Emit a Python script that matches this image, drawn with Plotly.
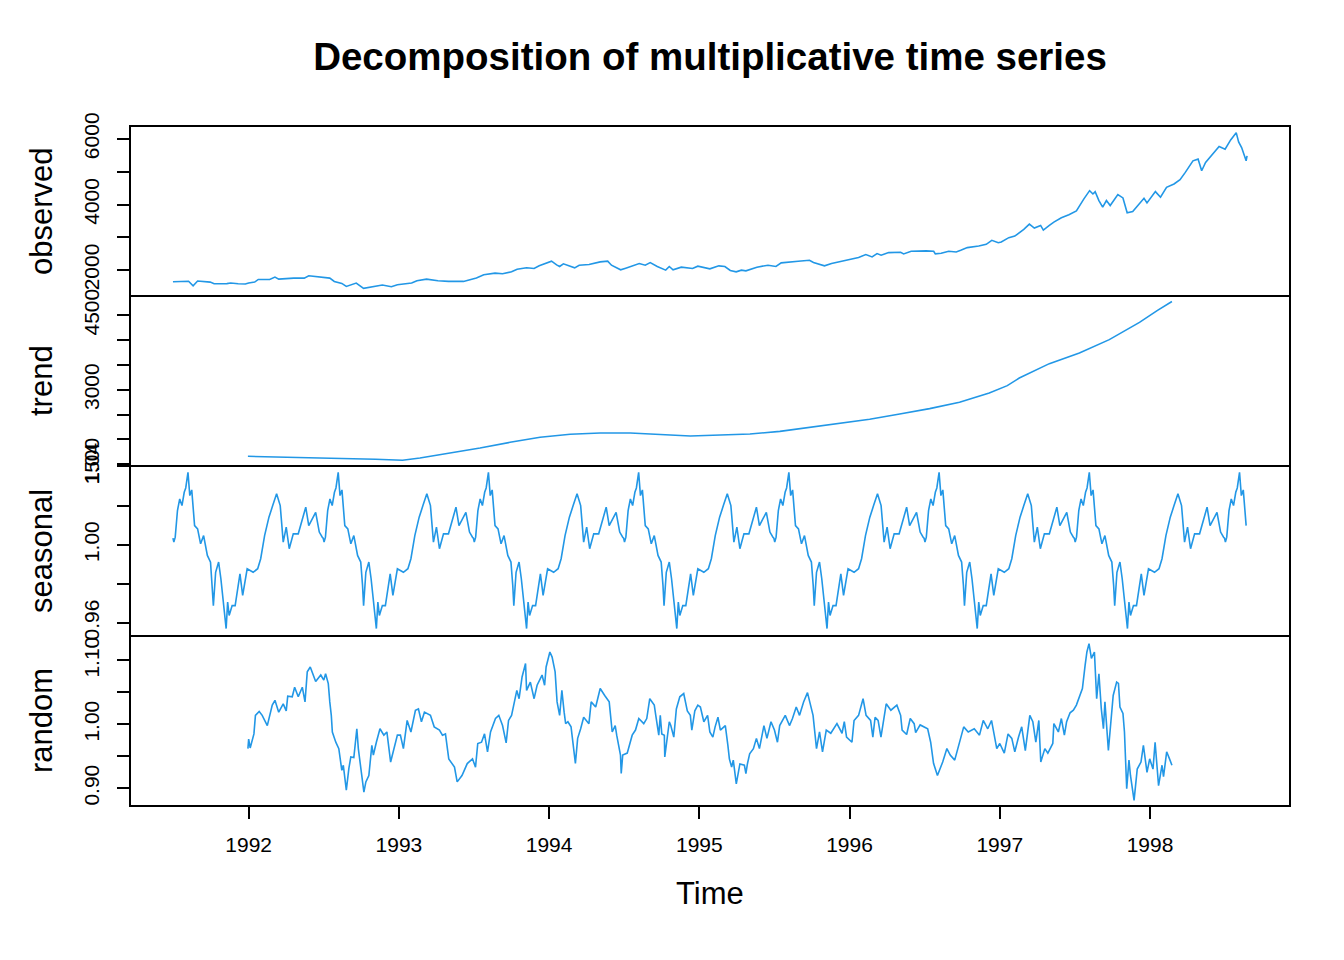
import plotly.graph_objects as go
from plotly.subplots import make_subplots

# observed series (DAX)
obs_t = [1991.496, 1991.60, 1991.63, 1991.66, 1991.744, 1991.77, 1991.855, 1991.88, 1991.93, 1991.978,
         1992.00, 1992.04, 1992.064, 1992.14, 1992.175, 1992.20, 1992.30, 1992.37, 1992.40, 1992.495,
         1992.54, 1992.57, 1992.62, 1992.65, 1992.68, 1992.716, 1992.765, 1992.84, 1992.89, 1992.95,
         1992.99, 1993.085, 1993.12, 1993.184, 1993.26, 1993.33, 1993.43, 1993.516, 1993.565, 1993.64,
         1993.69, 1993.75, 1993.787, 1993.85, 1993.90, 1993.934, 1994.016, 1994.05, 1994.07, 1994.095,
         1994.17, 1994.20, 1994.266, 1994.34, 1994.39, 1994.415, 1994.476, 1994.51, 1994.56, 1994.60,
         1994.64, 1994.673, 1994.72, 1994.776, 1994.80, 1994.825, 1994.88, 1994.955, 1994.99, 1995.04,
         1995.07, 1995.13, 1995.17, 1995.206, 1995.245, 1995.28, 1995.31, 1995.383, 1995.457, 1995.51,
         1995.545, 1995.658, 1995.733, 1995.76, 1995.81, 1995.833, 1995.88, 1995.958, 1996.02, 1996.06,
         1996.108, 1996.15, 1996.183, 1996.21, 1996.26, 1996.34, 1996.36, 1996.41, 1996.51, 1996.56,
         1996.571, 1996.61, 1996.66, 1996.71, 1996.74, 1996.784, 1996.86, 1996.91, 1996.947, 1996.99,
         1997.01, 1997.06, 1997.10, 1997.135, 1997.16, 1997.197, 1997.23, 1997.272, 1997.29, 1997.33,
         1997.36, 1997.41, 1997.46, 1997.51, 1997.535, 1997.56, 1997.598, 1997.62, 1997.635, 1997.66,
         1997.685, 1997.71, 1997.735, 1997.786, 1997.82, 1997.848, 1997.885, 1997.91, 1997.96, 1997.98,
         1998.036, 1998.07, 1998.11, 1998.16, 1998.20, 1998.235, 1998.286, 1998.32, 1998.344, 1998.37,
         1998.41, 1998.46, 1998.50, 1998.537, 1998.574, 1998.59, 1998.61, 1998.62, 1998.64, 1998.646]
obs_v = [1646, 1660, 1524, 1667, 1636, 1585, 1590, 1606, 1585, 1576,
         1606, 1636, 1717, 1717, 1788, 1727, 1758, 1758, 1828, 1788,
         1758, 1657, 1596, 1505, 1545, 1606, 1444, 1505, 1545, 1495,
         1555, 1606, 1677, 1727, 1677, 1657, 1657, 1758, 1858, 1909,
         1889, 1949, 2030, 2071, 2050, 2131, 2273, 2161, 2111, 2192,
         2071, 2151, 2171, 2252, 2273, 2151, 2010, 2060, 2131, 2202,
         2151, 2232, 2111, 2000, 2111, 2010, 2091, 2050, 2121, 2081,
         2040, 2131, 2111, 1990, 1949, 2000, 1980, 2091, 2151, 2111,
         2222, 2273, 2303, 2232, 2171, 2131, 2202, 2273, 2333, 2384,
         2475, 2404, 2505, 2455, 2535, 2545, 2495, 2576, 2586, 2576,
         2495, 2515, 2576, 2555, 2606, 2687, 2737, 2788, 2909, 2838,
         2859, 2990, 3040, 3162, 3242, 3404, 3283, 3364, 3222, 3364,
         3465, 3596, 3687, 3808, 3970, 4172, 4424, 4323, 4394, 4121,
         3919, 4121, 3970, 4303, 4202, 3747, 3788, 3919, 4192, 4050,
         4394, 4222, 4525, 4626, 4757, 4980, 5333, 5384, 5030, 5283,
         5485, 5767, 5687, 5970, 6191, 5909, 5737, 5586, 5333, 5485]

# trend component
trend_t = [1991.995, 1992.27, 1992.545, 1992.844, 1993.024, 1993.14, 1993.34, 1993.54, 1993.74, 1993.94,
           1994.14, 1994.34, 1994.54, 1994.74, 1994.94, 1995.14, 1995.337, 1995.536, 1995.735, 1995.935,
           1996.134, 1996.334, 1996.533, 1996.732, 1996.93, 1997.05, 1997.13, 1997.33, 1997.53, 1997.729,
           1997.93, 1998.05, 1998.137, 1998.146]
trend_v = [1661, 1647, 1621, 1601, 1581, 1627, 1727, 1828, 1943, 2044,
           2104, 2131, 2131, 2104, 2070, 2090, 2110, 2164, 2245, 2339,
           2406, 2513, 2621, 2748, 2935, 3084, 3237, 3527, 3741, 4010,
           4359, 4600, 4761, 4778]

# seasonal component: one yearly cycle, offset (years) from the series start
seas_start = 1991.496
seas_end = 1998.646
seas_phase = [0.000, 0.006, 0.015, 0.030, 0.045, 0.060, 0.075, 0.085, 0.100, 0.112,
              0.125, 0.144, 0.164, 0.184, 0.204, 0.229, 0.250, 0.262, 0.269, 0.284,
              0.304, 0.319, 0.340, 0.354, 0.364, 0.374, 0.394, 0.414, 0.446, 0.464,
              0.494, 0.534, 0.564, 0.584, 0.610, 0.639, 0.664, 0.690, 0.714, 0.734,
              0.754, 0.774, 0.801, 0.834, 0.884, 0.904, 0.950, 0.974, 0.994]
seas_v = [1.0034, 1.0014, 1.0039, 1.0175, 1.0234, 1.0200, 1.0268, 1.0290, 1.0370, 1.0251,
          1.0280, 1.0098, 1.0081, 1.0005, 1.0047, 0.9946, 0.9912, 0.9793, 0.9690, 0.9860,
          0.9912, 0.9827, 0.9690, 0.9573, 0.9708, 0.9640, 0.9690, 0.9690, 0.9852, 0.9742,
          0.9878, 0.9860, 0.9878, 0.9929, 1.0047, 1.0141, 1.0200, 1.0260, 1.0200, 1.0014,
          1.0090, 0.9980, 1.0056, 1.0056, 1.0192, 1.0098, 1.0166, 1.0065, 1.0039]

# random component
rand_t = [1991.995, 1992.000, 1992.010, 1992.035, 1992.045, 1992.070, 1992.090, 1992.124, 1992.157, 1992.175,
          1992.200, 1992.230, 1992.250, 1992.260, 1992.290, 1992.306, 1992.330, 1992.357, 1992.375, 1992.390,
          1992.410, 1992.446, 1992.480, 1992.500, 1992.512, 1992.530, 1992.540, 1992.550, 1992.557, 1992.580,
          1992.600, 1992.620, 1992.630, 1992.650, 1992.667, 1992.680, 1992.700, 1992.712, 1992.720, 1992.730,
          1992.745, 1992.767, 1992.780, 1992.800, 1992.820, 1992.830, 1992.850, 1992.874, 1992.900, 1992.920,
          1992.945, 1992.970, 1992.990, 1993.010, 1993.030, 1993.055, 1993.080, 1993.110, 1993.130, 1993.150,
          1993.170, 1993.210, 1993.235, 1993.270, 1993.290, 1993.310, 1993.332, 1993.370, 1993.388, 1993.420,
          1993.455, 1993.490, 1993.510, 1993.525, 1993.550, 1993.570, 1993.590, 1993.610, 1993.643, 1993.665,
          1993.690, 1993.714, 1993.730, 1993.750, 1993.770, 1993.785, 1993.800, 1993.820, 1993.843, 1993.850,
          1993.875, 1993.900, 1993.920, 1993.953, 1993.970, 1993.980, 1994.005, 1994.020, 1994.040, 1994.053,
          1994.070, 1994.085, 1994.100, 1994.110, 1994.125, 1994.146, 1994.175, 1994.190, 1994.210, 1994.230,
          1994.265, 1994.280, 1994.310, 1994.340, 1994.370, 1994.400, 1994.420, 1994.440, 1994.450, 1994.475,
          1994.480, 1994.490, 1994.520, 1994.553, 1994.575, 1994.597, 1994.630, 1994.650, 1994.670, 1994.700,
          1994.710, 1994.730, 1994.740, 1994.750, 1994.767, 1994.770, 1994.800, 1994.810, 1994.830, 1994.847,
          1994.870, 1994.896, 1994.920, 1994.940, 1994.950, 1994.970, 1994.990, 1995.007, 1995.030, 1995.055,
          1995.070, 1995.090, 1995.105, 1995.124, 1995.140, 1995.173, 1995.190, 1995.200, 1995.215, 1995.226,
          1995.246, 1995.270, 1995.300, 1995.310, 1995.320, 1995.335, 1995.360, 1995.380, 1995.400, 1995.417,
          1995.430, 1995.450, 1995.477, 1995.500, 1995.520, 1995.535, 1995.572, 1995.600, 1995.620, 1995.645,
          1995.667, 1995.694, 1995.720, 1995.735, 1995.757, 1995.780, 1995.800, 1995.820, 1995.845, 1995.875,
          1995.916, 1995.950, 1995.965, 1995.980, 1996.016, 1996.030, 1996.060, 1996.090, 1996.110, 1996.140,
          1996.155, 1996.170, 1996.190, 1996.209, 1996.230, 1996.244, 1996.275, 1996.315, 1996.340, 1996.350,
          1996.380, 1996.404, 1996.430, 1996.440, 1996.470, 1996.500, 1996.520, 1996.540, 1996.559, 1996.585,
          1996.600, 1996.620, 1996.648, 1996.670, 1996.700, 1996.730, 1996.760, 1996.790, 1996.810, 1996.830,
          1996.865, 1996.890, 1996.920, 1996.945, 1996.980, 1997.000, 1997.030, 1997.055, 1997.080, 1997.100,
          1997.125, 1997.146, 1997.170, 1997.200, 1997.220, 1997.240, 1997.260, 1997.273, 1997.300, 1997.320,
          1997.353, 1997.360, 1997.390, 1997.410, 1997.430, 1997.445, 1997.468, 1997.490, 1997.510, 1997.530,
          1997.550, 1997.568, 1997.580, 1997.594, 1997.610, 1997.630, 1997.645, 1997.660, 1997.676, 1997.690,
          1997.700, 1997.723, 1997.740, 1997.755, 1997.778, 1997.790, 1997.800, 1997.820, 1997.830, 1997.845,
          1997.860, 1997.870, 1997.894, 1997.915, 1997.940, 1997.956, 1997.980, 1997.998, 1998.020, 1998.034,
          1998.057, 1998.080, 1998.090, 1998.111, 1998.130, 1998.146]
rand_v = [0.962, 0.977, 0.963, 0.985, 1.014, 1.020, 1.014, 0.998, 1.030, 1.0375,
          1.019, 1.032, 1.021, 1.044, 1.043, 1.058, 1.043, 1.058, 1.035, 1.082,
          1.0896, 1.067, 1.077, 1.069, 1.079, 1.0636, 1.035, 1.014, 0.988, 0.972,
          0.962, 0.928, 0.936, 0.897, 0.931, 0.949, 0.948, 0.983, 0.993, 0.962,
          0.936, 0.894, 0.910, 0.920, 0.967, 0.952, 0.972, 0.993, 0.983, 0.988,
          0.941, 0.962, 0.983, 0.983, 0.962, 1.006, 0.988, 1.022, 1.024, 1.004,
          1.019, 1.014, 0.996, 0.991, 0.983, 0.985, 0.946, 0.933, 0.910, 0.920,
          0.9386, 0.946, 0.933, 0.970, 0.972, 0.985, 0.957, 0.988, 1.009, 1.014,
          0.998, 0.971, 1.006, 1.014, 1.035, 1.053, 1.040, 1.074, 1.095, 1.053,
          1.066, 1.040, 1.061, 1.077, 1.061, 1.0896, 1.113, 1.105, 1.082, 1.035,
          1.014, 1.053, 1.019, 1.001, 1.004, 0.996, 0.939, 0.978, 0.993, 1.011,
          1.001, 1.035, 1.027, 1.056, 1.045, 1.035, 0.988, 0.998, 0.983, 0.952,
          0.923, 0.952, 0.955, 0.983, 0.991, 1.009, 1.001, 1.009, 1.040, 1.030,
          1.014, 0.983, 1.014, 0.985, 0.983, 0.949, 1.004, 0.998, 0.980, 1.024,
          1.043, 1.048, 1.021, 1.014, 0.991, 1.021, 1.030, 1.027, 1.004, 1.014,
          0.988, 0.980, 0.996, 1.011, 0.991, 0.998, 0.967, 0.946, 0.933, 0.944,
          0.907, 0.938, 0.936, 0.923, 0.938, 0.954, 0.962, 0.978, 0.962, 0.983,
          0.998, 0.978, 1.004, 0.991, 0.972, 0.998, 1.014, 0.998, 1.009, 1.027,
          1.014, 1.035, 1.0495, 1.035, 1.014, 0.962, 0.988, 0.957, 0.991, 0.986,
          1.001, 0.986, 1.004, 0.980, 0.972, 1.006, 1.014, 1.040, 1.014, 1.006,
          0.980, 1.011, 1.006, 0.980, 1.016, 1.032, 1.022, 1.030, 1.014, 0.991,
          0.984, 1.009, 1.001, 0.987, 0.999, 0.996, 0.993, 0.972, 0.939, 0.920,
          0.928, 0.941, 0.962, 0.952, 0.944, 0.972, 0.996, 0.988, 0.991, 0.993,
          0.983, 1.006, 0.993, 1.006, 0.962, 0.970, 0.955, 0.985, 0.978, 0.957,
          0.980, 0.996, 0.959, 1.014, 1.004, 0.972, 1.006, 0.941, 0.962, 0.955,
          0.970, 1.001, 0.988, 1.009, 0.983, 1.004, 1.018, 1.022, 1.030, 1.043,
          1.056, 1.092, 1.113, 1.126, 1.103, 1.113, 1.040, 1.079, 1.024, 0.993,
          1.035, 0.959, 1.004, 1.045, 1.066, 1.064, 1.027, 1.017, 0.988, 0.8995,
          0.944, 0.920, 0.881, 0.930, 0.941, 0.967, 0.925, 0.946, 0.930, 0.972,
          0.904, 0.936, 0.918, 0.957, 0.946, 0.936]

years = [1992, 1993, 1994, 1995, 1996, 1997, 1998]
panel_names = ["observed", "trend", "seasonal", "random"]

# lay the yearly seasonal cycle over every year of the series
seas_t_all = []
seas_v_all = []
for k in range(8):
    for p, v in zip(seas_phase, seas_v):
        t = seas_start + k + p
        if t <= seas_end + 1e-9:
            seas_t_all.append(t)
            seas_v_all.append(v)

line_col = "#2297E6"
font_family = "Arial, Liberation Sans, sans-serif"
shift = 8  # the page adds a small body margin, pull everything up/left a bit

fig = make_subplots(rows=4, cols=1, shared_xaxes=True, vertical_spacing=0)

series = [(obs_t, obs_v), (trend_t, trend_v), (seas_t_all, seas_v_all), (rand_t, rand_v)]
for i, (xs, ys) in enumerate(series):
    fig.add_trace(go.Scatter(x=xs, y=ys, mode="lines", line=dict(color=line_col, width=1.6),
                             showlegend=False, hoverinfo="skip"), row=i + 1, col=1)

y_ranges = [[1212, 6394], [1466, 4889], [0.9535, 1.0402], [0.8723, 1.138]]
y_tickvals = [[2000, 3000, 4000, 5000, 6000],
              [1500, 2000, 2500, 3000, 3500, 4000, 4500],
              [0.96, 0.98, 1.00, 1.02, 1.04],
              [0.90, 0.95, 1.00, 1.05, 1.10]]
y_ticktext = [["2000", "", "4000", "", "6000"],
              ["1500", "", "", "3000", "", "", "4500"],
              ["0.96", "", "1.00", "", "1.04"],
              ["0.90", "", "1.00", "", "1.10"]]

for i in range(4):
    fig.update_yaxes(range=y_ranges[i], tickvals=y_tickvals[i], ticktext=y_ticktext[i],
                     tickangle=-90, ticks="outside", ticklen=12, tickwidth=2, tickcolor="black",
                     ticklabelstandoff=10, showline=False, showgrid=False, zeroline=False,
                     tickfont=dict(family=font_family, size=21, color="black"),
                     row=i + 1, col=1)
    fig.update_xaxes(range=[1991.21, 1998.932], showline=False, showgrid=False, zeroline=False,
                     row=i + 1, col=1)
    if i < 3:
        fig.update_xaxes(showticklabels=False, ticks="", row=i + 1, col=1)

fig.update_xaxes(tickvals=years, ticktext=[str(y) for y in years], ticks="outside", ticklen=12,
                 tickwidth=2, tickcolor="black", showticklabels=True, ticklabelstandoff=8,
                 tickfont=dict(family=font_family, size=21, color="black"), row=4, col=1)

# frame around the panels and the lines between them
fig.add_shape(type="rect", xref="paper", yref="paper", x0=0, x1=1, y0=0, y1=1,
              line=dict(color="black", width=2))
for yb in [0.25, 0.5, 0.75]:
    fig.add_shape(type="line", xref="paper", yref="paper", x0=0, x1=1, y0=yb, y1=yb,
                  line=dict(color="black", width=2))

# panel titles on the left
for i, name in enumerate(panel_names):
    fig.add_annotation(text=name, xref="paper", yref="paper", x=(41 - 130) / 1160,
                       y=1 - (i + 0.5) * 0.25, textangle=-90, showarrow=False,
                       xanchor="center", yanchor="middle",
                       font=dict(family=font_family, size=31, color="black"))

fig.add_annotation(text="Time", xref="paper", yref="paper", x=0.5, y=(806 - 893) / 680,
                   showarrow=False, xanchor="center", yanchor="middle",
                   font=dict(family=font_family, size=31, color="black"))

fig.update_layout(
    title=dict(text="<b>Decomposition of multiplicative time series</b>",
               x=(710 - shift) / 1344, xanchor="center",
               y=1 - (57 - shift) / 960, yanchor="middle", yref="container",
               font=dict(family=font_family, size=38.5, color="black")),
    width=1344, height=960,
    margin=dict(l=130 - shift, r=54 + shift, t=126 - shift, b=154 + shift),
    plot_bgcolor="white", paper_bgcolor="white",
)

fig.write_html("out.html")
